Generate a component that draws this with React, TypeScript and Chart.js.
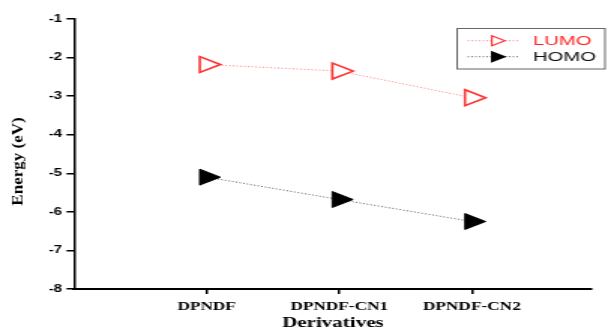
import React, { useEffect, useRef } from "react";
import { Chart, registerables } from "chart.js";

Chart.register(...registerables);

const categories = ["DPNDF", "DPNDF-CN1", "DPNDF-CN2"];
const lumo = [-2.18, -2.35, -3.04];
const homo = [-5.1, -5.68, -6.25];
const seriesNames = ["LUMO", "HOMO"];
const yTitle = "Energy (eV)";
const xTitle = "Derivatives";
const yTicksMin = -8;
const yTicksMax = -1;

const W = 405;
const H = 331;
const SX = 608 / W;

function triangle(ctx: CanvasRenderingContext2D, cx: number, cy: number, r: number) {
  ctx.beginPath();
  ctx.moveTo(cx + r, cy);
  ctx.lineTo(cx - r / 2, cy - (r * Math.sqrt(3)) / 2);
  ctx.lineTo(cx - r / 2, cy + (r * Math.sqrt(3)) / 2);
  ctx.closePath();
}

const legendPlugin = {
  id: "boxLegend",
  afterDraw(chart: any) {
    const ctx: CanvasRenderingContext2D = chart.ctx;
    ctx.save();
    ctx.strokeStyle = "#666";
    ctx.lineWidth = 1;
    ctx.strokeRect(304.5, 28.5, 98.5, 40.5);
    chart.data.datasets.forEach((ds: any, i: number) => {
      const y = 40.7 + i * 16;
      ctx.save();
      ctx.strokeStyle = ds.borderColor;
      ctx.lineWidth = 1;
      ctx.setLineDash([1, 1.5]);
      ctx.beginPath();
      ctx.moveTo(311.5, y);
      ctx.lineTo(346.4, y);
      ctx.stroke();
      ctx.restore();
      triangle(ctx, 330.5, y, 5.8);
      ctx.fillStyle = ds.pointBackgroundColor;
      ctx.fill();
      ctx.strokeStyle = ds.pointBorderColor;
      ctx.lineWidth = 1.2;
      ctx.stroke();
      ctx.fillStyle = i === 0 ? "#ff2a2a" : "#111";
      ctx.font = '13.5px "Liberation Sans", Arial, sans-serif';
      ctx.textBaseline = "middle";
      ctx.textAlign = "left";
      ctx.fillText(ds.label, 355, y + 0.5);
    });
    ctx.restore();
  },
};

const yTitlePlugin = {
  id: "yTitle",
  afterDraw(chart: any) {
    const ctx: CanvasRenderingContext2D = chart.ctx;
    ctx.save();
    ctx.translate(12, 161.5);
    ctx.scale(0.62, 1);
    ctx.rotate(-Math.PI / 2);
    ctx.fillStyle = "#000";
    ctx.font = 'bold 17px "Liberation Serif", "Times New Roman", serif';
    ctx.textAlign = "center";
    ctx.textBaseline = "middle";
    ctx.fillText(yTitle, 0, 0);
    ctx.restore();
  },
};

export default function App() {
  const ref = useRef<HTMLCanvasElement>(null);
  useEffect(() => {
    if (!ref.current) return;
    const chart = new Chart(ref.current, {
      type: "line",
      data: {
        datasets: [
          {
            label: seriesNames[0],
            data: categories.map((_, i) => ({ x: i + 1, y: lumo[i] })),
            borderColor: "rgba(255,80,80,0.7)",
            borderWidth: 1,
            borderDash: [1, 1.5],
            pointStyle: "triangle",
            rotation: 90,
            pointRadius: 9.2,
            pointHoverRadius: 9.2,
            pointBorderColor: "#ff3333",
            pointBackgroundColor: "#ffffff",
            pointBorderWidth: 1.6,
            clip: false as any,
          },
          {
            label: seriesNames[1],
            data: categories.map((_, i) => ({ x: i + 1, y: homo[i] })),
            borderColor: "rgba(50,50,50,0.75)",
            borderWidth: 1,
            borderDash: [1, 1.5],
            pointStyle: "triangle",
            rotation: 90,
            pointRadius: 9.2,
            pointHoverRadius: 9.2,
            pointBorderColor: "#000000",
            pointBackgroundColor: "#000000",
            pointBorderWidth: 1,
            clip: false as any,
          },
        ],
      },
      options: {
        responsive: false,
        animation: false,
        devicePixelRatio: 1,
        layout: { padding: { top: 19, right: 0, left: 0, bottom: 0 } },
        plugins: { legend: { display: false }, tooltip: { enabled: false } },
        scales: {
          x: {
            type: "linear",
            min: 0,
            max: (W - 49.3) / 91.1,
            afterBuildTicks: (axis: any) => {
              axis.ticks = categories.map((_, i) => ({ value: i + 1 }));
            },
            afterFit: (s: any) => {
              s.height = 42;
            },
            border: { display: true, color: "#000", width: 2 },
            grid: {
              display: true,
              drawOnChartArea: false,
              drawTicks: true,
              tickLength: 5,
              color: "#000",
              lineWidth: 1.5,
            },
            ticks: {
              autoSkip: false,
              maxRotation: 0,
              padding: 6,
              color: "#000",
              font: { family: '"Liberation Serif", "Times New Roman", serif', weight: "bold", size: 11.5 },
              callback: (v: any) => categories[Number(v) - 1] ?? "",
            },
            title: {
              display: true,
              text: xTitle,
              color: "#000",
              font: { family: '"Liberation Serif", "Times New Roman", serif', weight: "bold", size: 14 },
              padding: { top: 0, bottom: -1 },
            },
          },
          y: {
            type: "linear",
            min: yTicksMin,
            max: yTicksMax,
            afterFit: (s: any) => {
              s.width = 49.3;
            },
            border: { display: true, color: "#000", width: 1.5 },
            grid: {
              display: true,
              drawOnChartArea: false,
              drawTicks: true,
              tickLength: 5,
              color: "#000",
              lineWidth: 1.5,
            },
            ticks: {
              stepSize: 1,
              padding: 3,
              color: "#000",
              font: { family: '"Liberation Sans", Arial, sans-serif', weight: "bold", size: 10 },
            },
            title: { display: false },
          },
        },
      },
      plugins: [legendPlugin, yTitlePlugin],
    });
    return () => chart.destroy();
  }, []);

  return (
    <div
      style={{
        position: "fixed",
        left: 0,
        top: 0,
        width: 608,
        height: 331,
        overflow: "hidden",
        background: "#fff",
      }}
    >
      <div style={{ width: W, height: H, transform: `scaleX(${SX})`, transformOrigin: "0 0" }}>
        <canvas ref={ref} width={W} height={H} style={{ display: "block" }} />
      </div>
    </div>
  );
}
